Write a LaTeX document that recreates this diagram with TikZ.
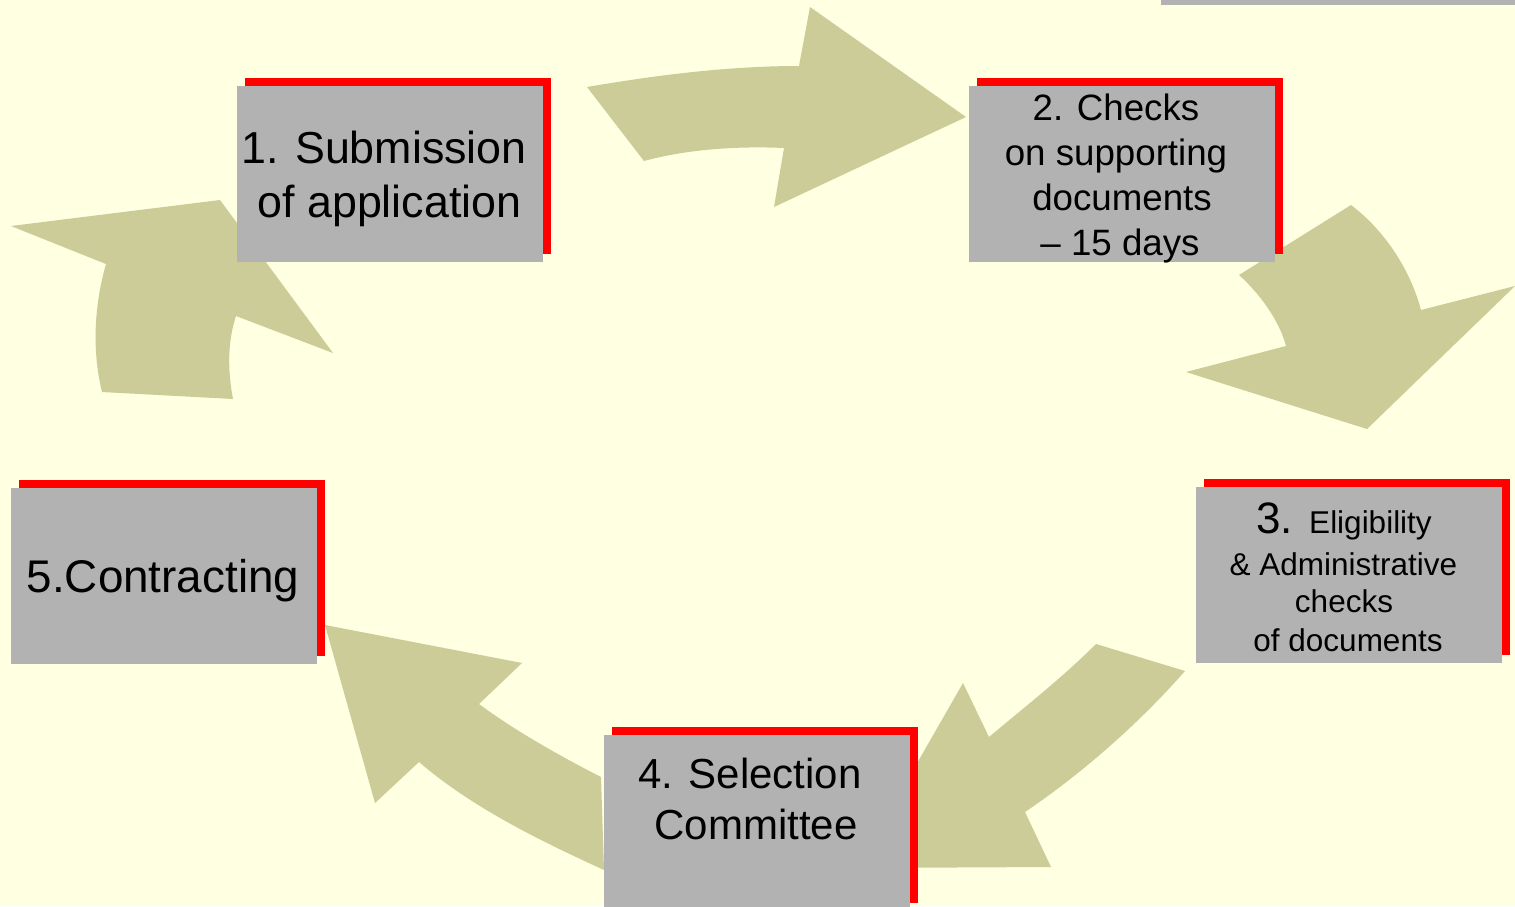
\documentclass[tikz,border=0pt]{standalone}
\usepackage{fontspec}
\setmainfont{Liberation Sans}
\usetikzlibrary{calc}
\definecolor{bgyellow}{RGB}{255,255,225}
\definecolor{arrowolive}{RGB}{204,204,153}
\definecolor{boxgray}{RGB}{178,178,178}
\definecolor{shadowred}{RGB}{255,0,0}
\begin{document}
\begin{tikzpicture}[x=1pt,y=-1pt,
  blockarrow/.style={fill=arrowolive},
  graybox/.style={fill=boxgray, minimum width=306pt, minimum height=176pt, inner sep=0pt, outer sep=0pt},
  redbox/.style={fill=shadowred, minimum width=306pt, minimum height=176pt, inner sep=0pt, outer sep=0pt},
  lbl/.style={anchor=base, inner sep=0pt, outer sep=0pt, text=black},
  fbig/.style={font=\fontsize{44.8pt}{53pt}\selectfont},
  fcon/.style={font=\fontsize{45.8pt}{53pt}\selectfont},
  fmid/.style={font=\fontsize{36.7pt}{45pt}\selectfont},
  fsel/.style={font=\fontsize{42pt}{51pt}\selectfont},
  fsmall/.style={font=\fontsize{31.5pt}{38pt}\selectfont},
]
\path[use as bounding box] (0,0) rectangle (1515,906);
\clip (0,0) rectangle (1515,906);
\fill[bgyellow] (0,0) rectangle (1515,906);
\fill[boxgray] (1161,0) rectangle (1515,5);

% arrow 1 -> 2
\fill[blockarrow] (587,87) .. controls (657,75) and (729,66) .. (799,66)
  -- (810,7) -- (966,117) -- (774,207) -- (784,148)
  .. controls (738,146) and (688,149) .. (644,161) -- cycle;
% arrow 2 -> 3
\fill[blockarrow] (1351,205) .. controls (1384.5,230.4) and (1410.2,269.4) .. (1421,310)
  -- (1515,286) -- (1367,429) -- (1186,372) -- (1286,346)
  .. controls (1279.2,319.9) and (1259,293) .. (1239,275) -- cycle;
% arrow 3 -> 4
\fill[blockarrow] (1096,644) -- (1185,671)
  .. controls (1138.7,723.5) and (1083,772.7) .. (1025,812)
  -- (1051,867) -- (857,868) -- (963,683) -- (989,737)
  .. controls (1025,706.8) and (1063,677) .. (1096,644) -- cycle;
% arrow 4 -> 5
\fill[blockarrow] (601,777) .. controls (560,756) and (516,731.4) .. (479,704)
  -- (522,663) -- (325,625) -- (375,803) -- (419,762)
  .. controls (472,807.5) and (539.5,840.5) .. (604,870) -- cycle;
% arrow 5 -> 1
\fill[blockarrow] (102,392) .. controls (91.8,350.2) and (94.2,305.4) .. (106,264)
  -- (11,226) -- (220,200) -- (333,353) -- (236,316)
  .. controls (227.2,342.6) and (227.8,371.5) .. (233,399) -- cycle;

% boxes
\node[redbox] (r1) at (398,166) {};
\node[graybox] (b1) at (390,174) {};
\node[redbox] (r2) at (1130,166) {};
\node[graybox] (b2) at (1122,174) {};
\node[redbox] (r3) at (1357,567) {};
\node[graybox] (b3) at (1349,575) {};
\node[redbox] (r4) at (765,815) {};
\node[graybox] (b4) at (757,823) {};
\node[redbox] (r5) at (172,567.5) {};
\node[graybox] (b5) at (164,575.5) {};

% texts
\node[lbl,fbig] (t1a) at (384,163) {1. Submission};
\node[lbl,fbig] (t1b) at (389.5,217) {of application};

\node[lbl,fmid] (t2a) at (1116,120.5) {2. Checks};
\node[lbl,fmid] (t2b) at (1116,165.5) {on supporting};
\node[lbl,fmid] (t2c) at (1122,210) {documents};
\node[lbl,fmid] (t2d) at (1120,255) {– 15 days};

\node[lbl,fsmall] (t3a) at (1344,533) {{\fontsize{44pt}{44pt}\selectfont 3. }Eligibility};
\node[lbl,fsmall] (t3b) at (1343.5,575) {\& Administrative};
\node[lbl,fsmall] (t3c) at (1344,612) {checks};
\node[lbl,fsmall] (t3d) at (1348,651) {of documents};

\node[lbl,fsel] (t4a) at (750,788) {4. Selection};
\node[lbl,fsel] (t4b) at (756,839) {Committee};

\node[lbl,fcon] (t5) at (163,592) {5.Contracting};
\end{tikzpicture}
\end{document}
